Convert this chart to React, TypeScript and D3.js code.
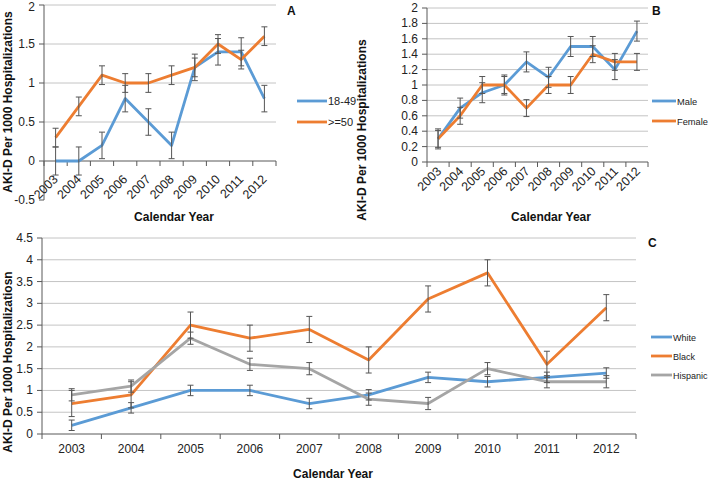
import React from 'react';
import * as d3 from 'd3';

const years = ['2003', '2004', '2005', '2006', '2007', '2008', '2009', '2010', '2011', '2012'];

// Panel A: age groups
const ageYoung = [0, 0, 0.2, 0.8, 0.5, 0.2, 1.2, 1.4, 1.4, 0.8];
const ageYoungErr = [0.18, 0.18, 0.17, 0.17, 0.17, 0.17, 0.17, 0.17, 0.18, 0.17];
const ageOld = [0.3, 0.7, 1.1, 1.0, 1.0, 1.1, 1.2, 1.5, 1.3, 1.6];
const ageOldErr = [0.12, 0.12, 0.12, 0.12, 0.12, 0.12, 0.12, 0.12, 0.12, 0.12];
const ticksA = [-0.5, 0, 0.5, 1, 1.5, 2];

// Panel B: sex
const male = [0.3, 0.7, 0.9, 1.0, 1.3, 1.1, 1.5, 1.5, 1.2, 1.7];
const maleErr = [0.13, 0.13, 0.13, 0.13, 0.13, 0.13, 0.13, 0.13, 0.13, 0.13];
const female = [0.3, 0.6, 1.0, 1.0, 0.7, 1.0, 1.0, 1.4, 1.3, 1.3];
const femaleErr = [0.11, 0.11, 0.11, 0.11, 0.11, 0.11, 0.11, 0.11, 0.11, 0.11];
const ticksB = [0, 0.2, 0.4, 0.6, 0.8, 1, 1.2, 1.4, 1.6, 1.8, 2];

// Panel C: race
const white = [0.2, 0.6, 1.0, 1.0, 0.7, 0.9, 1.3, 1.2, 1.3, 1.4];
const whiteErr = [0.12, 0.12, 0.12, 0.12, 0.12, 0.12, 0.12, 0.12, 0.12, 0.12];
const black = [0.7, 0.9, 2.5, 2.2, 2.4, 1.7, 3.1, 3.7, 1.6, 2.9];
const blackErr = [0.3, 0.3, 0.3, 0.3, 0.3, 0.3, 0.3, 0.3, 0.3, 0.3];
const hispanic = [0.9, 1.1, 2.2, 1.6, 1.5, 0.8, 0.7, 1.5, 1.2, 1.2];
const hispanicErr = [0.14, 0.14, 0.14, 0.14, 0.14, 0.14, 0.14, 0.14, 0.14, 0.14];
const ticksC = [0, 0.5, 1, 1.5, 2, 2.5, 3, 3.5, 4, 4.5];

const BLUE = '#5b9bd5';
const ORANGE = '#ed7d31';
const GRAY = '#a5a5a5';
const FONT = 'Liberation Sans, Arial, sans-serif';

type Series = { name: string; values: number[]; err: number[]; color: string };

interface PanelProps {
  x0: number; x1: number;
  yTop: number; yBottom: number;
  ticks: number[];
  series: Series[];
  rotated: boolean;
  labelDx: number; labelDy: number;
  yTitle: string; yTitleX: number; yTitleY: number;
  xTitleX: number; xTitleY: number;
  tag: string; tagX: number; tagY: number;
  legendX: number; legendY: number[]; legendLen: number; legendSize: number;
  tickRight: number;
}

const Panel: React.FC<PanelProps> = (p) => {
  const domain = d3.extent(p.ticks) as [number, number];
  const y = d3.scaleLinear().domain(domain).range([p.yBottom, p.yTop]);
  const x = d3.scaleBand().domain(years).range([p.x0, p.x1]);
  const cx = (yr: string) => (x(yr) || 0) + x.bandwidth() / 2;
  const y0 = y(Math.max(0, domain[0]));
  const fmt = (v: number) => String(+v.toFixed(1));

  return (
    <g fontFamily={FONT}>
      {/* gridlines */}
      {p.ticks.filter(t => t > 0).map(t => (
        <line key={'g' + t} x1={p.x0} x2={p.x1} y1={y(t)} y2={y(t)} stroke="#c4c4c4" strokeWidth={1} />
      ))}
      {/* y axis */}
      <line x1={p.x0} x2={p.x0} y1={p.yTop} y2={p.yBottom} stroke="#595959" strokeWidth={1} />
      {p.ticks.map(t => (
        <g key={'t' + t}>
          <line x1={p.x0 - 5} x2={p.x0} y1={y(t)} y2={y(t)} stroke="#595959" />
          <text x={p.tickRight} y={Math.max(y(t) + 4, 11)} textAnchor="end" fontSize={12} fill="#222">{fmt(t)}</text>
        </g>
      ))}
      {/* x axis at zero */}
      <line x1={p.x0} x2={p.x1} y1={y0} y2={y0} stroke="#595959" strokeWidth={1} />
      {years.map(yr => (
        <line key={'xt' + yr} x1={x(yr)} x2={x(yr)} y1={y0} y2={y0 + 5} stroke="#595959" />
      ))}
      <line x1={p.x1} x2={p.x1} y1={y0} y2={y0 + 5} stroke="#595959" />
      {years.map(yr => p.rotated ? (
        <text key={'xl' + yr} transform={`translate(${cx(yr) + p.labelDx},${y0 + p.labelDy}) rotate(-45)`}
          textAnchor="end" fontSize={12.5} fill="#222">{yr}</text>
      ) : (
        <text key={'xl' + yr} x={cx(yr)} y={y0 + p.labelDy} textAnchor="middle" fontSize={12} fill="#222">{yr}</text>
      ))}
      {/* series lines */}
      {p.series.map(s => {
        const line = d3.line<number>().x((_, i) => cx(years[i])).y(v => y(v));
        return <path key={s.name} d={line(s.values) || ''} fill="none" stroke={s.color} strokeWidth={2.8} strokeLinejoin="round" />;
      })}
      {/* error bars */}
      {p.series.map(s => s.values.map((v, i) => {
        const c = cx(years[i]);
        const hi = y(v + s.err[i]);
        const lo = y(v - s.err[i]);
        return (
          <g key={s.name + i} stroke="#555" strokeWidth={1}>
            <line x1={c} x2={c} y1={hi} y2={lo} />
            <line x1={c - 3} x2={c + 3} y1={hi} y2={hi} />
            <line x1={c - 3} x2={c + 3} y1={lo} y2={lo} />
          </g>
        );
      }))}
      {/* titles */}
      <text transform={`translate(${p.yTitleX},${p.yTitleY}) rotate(-90)`} textAnchor="middle"
        fontSize={12} fontWeight="bold" fill="#111">{p.yTitle}</text>
      <text x={p.xTitleX} y={p.xTitleY} textAnchor="middle" fontSize={12} fontWeight="bold" fill="#111">Calendar Year</text>
      <text x={p.tagX} y={p.tagY} fontSize={12} fontWeight="bold" fill="#111">{p.tag}</text>
      {/* legend */}
      {p.series.map((s, i) => (
        <g key={'lg' + s.name}>
          <line x1={p.legendX} x2={p.legendX + p.legendLen} y1={p.legendY[i]} y2={p.legendY[i]} stroke={s.color} strokeWidth={2.8} />
          <text x={p.legendX + p.legendLen + 1} y={p.legendY[i] + 3.5} fontSize={p.legendSize} fill="#222">{s.name}</text>
        </g>
      ))}
    </g>
  );
};

export default function App() {
  return (
    <svg width={709} height={482} style={{ position: 'absolute', left: 0, top: 0, background: '#fff' }}>
      <rect width={709} height={482} fill="#fff" />
      <Panel
        x0={44} x1={276} yTop={5} yBottom={200} ticks={ticksA}
        series={[
          { name: '18-49', values: ageYoung, err: ageYoungErr, color: BLUE },
          { name: '>=50', values: ageOld, err: ageOldErr, color: ORANGE },
        ]}
        rotated labelDx={3} labelDy={19}
        yTitle="AKI-D Per 1000 Hospitalizations" yTitleX={12} yTitleY={102}
        xTitleX={174} xTitleY={221}
        tag="A" tagX={287} tagY={15}
        legendX={297} legendY={[101, 122]} legendLen={30} legendSize={11}
        tickRight={35}
      />
      <Panel
        x0={427} x1={648} yTop={8} yBottom={162} ticks={ticksB}
        series={[
          { name: 'Male', values: male, err: maleErr, color: BLUE },
          { name: 'Female', values: female, err: femaleErr, color: ORANGE },
        ]}
        rotated labelDx={4} labelDy={10}
        yTitle="AKI-D Per 1000 Hospitalizations" yTitleX={366} yTitleY={130}
        xTitleX={551} xTitleY={221}
        tag="B" tagX={652} tagY={15}
        legendX={652} legendY={[101, 121]} legendLen={24} legendSize={9.3}
        tickRight={418}
      />
      <Panel
        x0={42} x1={636} yTop={238} yBottom={434} ticks={ticksC}
        series={[
          { name: 'White', values: white, err: whiteErr, color: BLUE },
          { name: 'Black', values: black, err: blackErr, color: ORANGE },
          { name: 'Hispanic', values: hispanic, err: hispanicErr, color: GRAY },
        ]}
        rotated={false} labelDx={0} labelDy={19}
        yTitle="AKI-D Per 1000 Hospitalizatiosn" yTitleX={12} yTitleY={362}
        xTitleX={333} xTitleY={478}
        tag="C" tagX={648} tagY={247}
        legendX={651} legendY={[337, 356, 375]} legendLen={21} legendSize={9}
        tickRight={33}
      />
    </svg>
  );
}
